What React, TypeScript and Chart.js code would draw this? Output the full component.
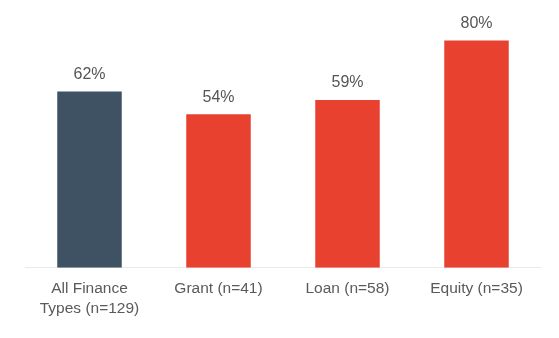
import React, { useEffect, useRef } from "react";
import { Chart, registerables } from "chart.js";

Chart.register(...registerables);

const categories: (string | string[])[] = [
  ["All Finance", "Types (n=129)"],
  "Grant (n=41)",
  "Loan (n=58)",
  "Equity (n=35)",
];
const shares: number[] = [62, 54, 59, 80];
const barColors: string[] = ["#3e5264", "#e8412f", "#e8412f", "#e8412f"];

const FONT = "'Liberation Sans', Arial, sans-serif";

// Writes the percentage above each bar
const valueLabels = {
  id: "valueLabels",
  afterDatasetsDraw(chart: any) {
    const ctx = chart.ctx;
    const meta = chart.getDatasetMeta(0);
    ctx.save();
    ctx.font = `16px ${FONT}`;
    ctx.fillStyle = "#555555";
    ctx.textAlign = "center";
    ctx.textBaseline = "bottom";
    meta.data.forEach((bar: any, i: number) => {
      ctx.fillText(`${shares[i]}%`, bar.x, bar.y - 9);
    });
    ctx.restore();
  },
};

export default function App() {
  const canvasRef = useRef<HTMLCanvasElement | null>(null);

  useEffect(() => {
    if (!canvasRef.current) return;
    const chart = new Chart(canvasRef.current, {
      type: "bar",
      data: {
        labels: categories,
        datasets: [
          {
            data: shares,
            backgroundColor: barColors,
            borderWidth: 0,
            barPercentage: 0.5,
            categoryPercentage: 1,
          },
        ],
      },
      options: {
        animation: false,
        responsive: false,
        maintainAspectRatio: false,
        layout: { padding: { top: 12, left: 25, right: 18, bottom: 8 } },
        plugins: {
          legend: { display: false },
          tooltip: { enabled: false },
        },
        scales: {
          x: {
            grid: { display: false, drawTicks: false },
            border: { display: true, color: "#ebebeb", width: 1 },
            ticks: {
              color: "#5a5a5a",
              padding: 11,
              maxRotation: 0,
              autoSkip: false,
              font: { family: FONT, size: 15.5, lineHeight: 1.3 },
            },
          },
          y: {
            display: false,
            min: 0,
            max: 90,
          },
        },
      },
      plugins: [valueLabels],
    });
    return () => chart.destroy();
  }, []);

  return (
    <div style={{ position: "fixed", left: 0, top: 0, width: 559, height: 338, background: "#ffffff" }}>
      <canvas ref={canvasRef} width={559} height={338} style={{ width: 559, height: 338 }} />
    </div>
  );
}
